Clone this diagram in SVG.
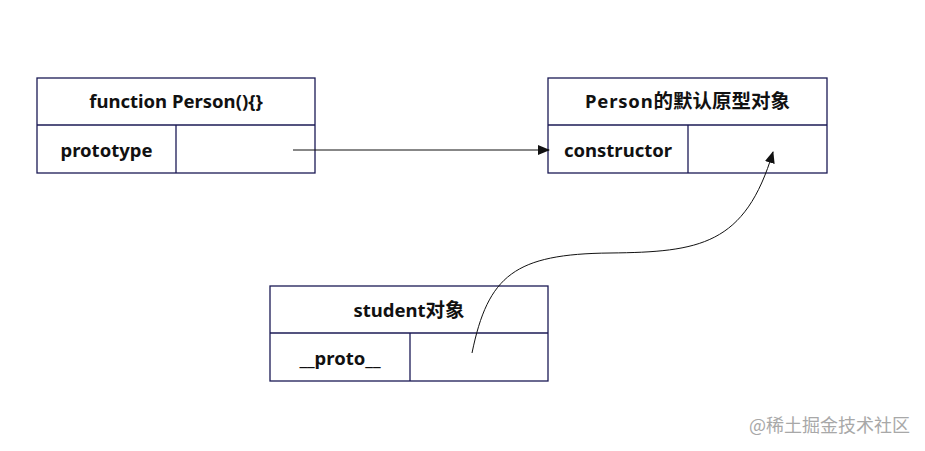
<svg xmlns="http://www.w3.org/2000/svg" width="925" height="451" viewBox="0 0 925 451">
<style>
.box{fill:#fff;stroke:#1b1a55;stroke-width:1.3}
.ln{stroke:#1b1a55;stroke-width:1.3}
.t{font-family:"Noto Sans","Noto Sans CJK SC",sans-serif;font-weight:bold;font-size:18.5px;fill:#111;text-anchor:middle}
.cj{font-size:19.5px}
.c{fill:none;stroke:#111;stroke-width:1}
.wm{font-family:"Noto Sans CJK SC",sans-serif;font-size:18px;fill:#a8a8a8}
</style>
<defs>
<marker id="ah" markerWidth="12" markerHeight="10" refX="11" refY="5" orient="auto" markerUnits="userSpaceOnUse">
<path d="M0,0 L12,5 L0,10 Z" fill="#111"/>
</marker>
</defs>
<rect width="925" height="451" fill="#fff"/>
<g id="person-fn">
<rect class="box" x="37" y="78" width="278" height="95"/>
<line class="ln" x1="37" y1="125" x2="315" y2="125"/>
<line class="ln" x1="176" y1="125" x2="176" y2="173"/>
<text class="t" x="176" y="108">function Person(){}</text>
<text class="t" x="106.5" y="157">prototype</text>
</g>
<g id="person-proto">
<rect class="box" x="548" y="78" width="279" height="95"/>
<line class="ln" x1="548" y1="125" x2="827" y2="125"/>
<line class="ln" x1="688" y1="125" x2="688" y2="173"/>
<text class="t" x="687.5" y="108"><tspan letter-spacing="0.8">Person</tspan><tspan class="cj">的默认原型对象</tspan></text>
<text class="t" x="618" y="157">constructor</text>
</g>
<g id="student">
<rect class="box" x="270" y="286" width="278" height="95"/>
<line class="ln" x1="270" y1="333" x2="548" y2="333"/>
<line class="ln" x1="410" y1="333" x2="410" y2="381"/>
<text class="t" x="409" y="317">student<tspan class="cj">对象</tspan></text>
<text class="t" x="340" y="365">__proto__</text>
</g>
<g id="connectors">
<line class="c" x1="293" y1="150" x2="549" y2="150" marker-end="url(#ah)"/>
<path class="c" d="M472,353 C488,275 515,254 610,253 C700,252 745,245 773,152" marker-end="url(#ah)"/>
</g>
<text class="wm" x="749" y="432">@稀土掘金技术社区</text>
</svg>
